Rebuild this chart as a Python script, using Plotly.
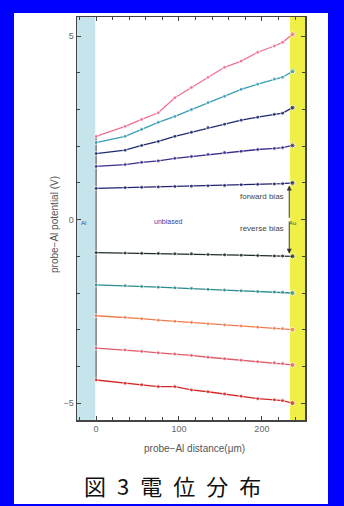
import plotly.graph_objects as go

# ---- data ----
distance_um = [0, 35, 55, 75, 95, 115, 135, 155, 175, 195, 215, 225, 237]

series_labels = ["V<sub>Au</sub>=+5V", "+4V", "+3V", "+2V", "+1V",
                 "-1V", "-2V", "-3V", "-4V", "-5V"]
series_colors = ["#f07090", "#3a9db5", "#1e2c6e", "#3b2d8c", "#23236e",
                 "#1f2b2b", "#2a8c8c", "#f07a4a", "#e25a6a", "#d42828"]

v_p5 = [2.27, 2.54, 2.73, 2.91, 3.32, 3.60, 3.88, 4.15, 4.32, 4.56, 4.73, 4.83, 5.05]
v_p4 = [2.10, 2.27, 2.46, 2.65, 2.81, 3.00, 3.19, 3.36, 3.55, 3.69, 3.83, 3.88, 4.04]
v_p3 = [1.80, 1.89, 2.02, 2.13, 2.27, 2.38, 2.51, 2.60, 2.71, 2.79, 2.87, 2.90, 3.05]
v_p2 = [1.45, 1.50, 1.56, 1.60, 1.67, 1.72, 1.78, 1.83, 1.86, 1.91, 1.94, 1.96, 2.02]
v_p1 = [0.85, 0.87, 0.88, 0.89, 0.90, 0.91, 0.92, 0.93, 0.95, 0.96, 0.97, 0.98, 1.00]
v_m1 = [-0.90, -0.91, -0.92, -0.92, -0.93, -0.93, -0.95, -0.96, -0.97, -0.98, -0.99, -0.99, -1.00]
v_m2 = [-1.78, -1.80, -1.82, -1.84, -1.86, -1.87, -1.90, -1.92, -1.94, -1.96, -1.97, -1.98, -2.00]
v_m3 = [-2.62, -2.66, -2.70, -2.74, -2.77, -2.80, -2.84, -2.87, -2.90, -2.93, -2.96, -2.97, -3.00]
v_m4 = [-3.50, -3.55, -3.59, -3.63, -3.66, -3.70, -3.75, -3.79, -3.83, -3.87, -3.90, -3.92, -3.96]
v_m5 = [-4.37, -4.46, -4.50, -4.55, -4.55, -4.64, -4.69, -4.75, -4.81, -4.88, -4.91, -4.93, -5.00]

all_series = [v_p5, v_p4, v_p3, v_p2, v_p1, v_m1, v_m2, v_m3, v_m4, v_m5]

x_ticks = [0, 100, 200]
y_ticks = [-5, 0, 5]

caption = "図\u20023\u2002電\u2002位\u2002分\u2002布"

# ---- figure ----
fig = go.Figure()

# vertical jump at the Al edge (x = 0) joining the first points of all curves
starts = [s[0] for s in all_series]
fig.add_trace(go.Scatter(x=[0, 0], y=[min(starts), max(starts)], mode="lines",
                         line=dict(color="#555", width=1.2),
                         showlegend=False, hoverinfo="skip"))

for lab, col, vals in zip(series_labels, series_colors, all_series):
    sizes = [4] * (len(vals) - 1) + [5]
    fig.add_trace(go.Scatter(
        x=distance_um, y=vals, mode="lines+markers",
        line=dict(color=col, width=1.3),
        marker=dict(color=col, size=sizes),
        showlegend=False, hoverinfo="skip"))
    fig.add_annotation(x=228, y=vals[-1] + 0.17, text=lab, showarrow=False,
                       xanchor="right", yanchor="bottom",
                       font=dict(size=7, color=col, family="Liberation Sans"))

W, H = 344, 506
L, R, T, B = 77, 39, 17, 86
pw, ph = W - L - R, H - T - B

def px(xpix):
    return (xpix - L) / pw

def py(ypix):
    return (H - B - ypix) / ph

shapes = [
    dict(type="rect", xref="paper", yref="paper", x0=px(14), x1=px(328),
         y0=py(504), y1=py(13), fillcolor="white", line=dict(width=0), layer="below"),
    dict(type="rect", xref="x", yref="paper", x0=-23, x1=-1, y0=0, y1=1,
         fillcolor="#c6e4eb", line=dict(width=0), layer="below"),
    dict(type="rect", xref="x", yref="paper", x0=234, x1=252, y0=0, y1=1,
         fillcolor="#f0ef45", line=dict(width=0), layer="below"),
]

annotations = [
    dict(x=233, y=0.93, ax=233, ay=0.05, xref="x", yref="y", axref="x", ayref="y",
         text="", showarrow=True, arrowhead=2, arrowsize=1, arrowwidth=1, arrowcolor="#333"),
    dict(x=233, y=-0.93, ax=233, ay=-0.05, xref="x", yref="y", axref="x", ayref="y",
         text="", showarrow=True, arrowhead=2, arrowsize=1, arrowwidth=1, arrowcolor="#333"),
    dict(x=229, y=0.46, xref="x", yref="y", text="forward bias", showarrow=False,
         xanchor="right", font=dict(size=8, color="#444", family="Liberation Sans")),
    dict(x=229, y=-0.41, xref="x", yref="y", text="reverse bias", showarrow=False,
         xanchor="right", font=dict(size=8, color="#444", family="Liberation Sans")),
    dict(x=107, y=-0.19, xref="x", yref="y", text="unbiased", showarrow=False,
         font=dict(size=7, color="#3344aa", family="Liberation Sans")),
    dict(x=-10, y=-0.22, xref="x", yref="y", text="Al", showarrow=False,
         font=dict(size=6, color="#3344aa", family="Liberation Sans")),
    dict(x=243, y=-0.22, xref="x", yref="y", text="Au", showarrow=False,
         font=dict(size=6, color="#555", family="Liberation Sans")),
    dict(x=px(54), y=py(225), xref="paper", yref="paper", text="probe−Al potential (V)",
         textangle=-90, showarrow=False, xanchor="center", yanchor="middle",
         font=dict(size=10, color="#555", family="Liberation Sans")),
    dict(x=px(194), y=py(449), xref="paper", yref="paper", text="probe−Al distance(μm)",
         showarrow=False, xanchor="center", yanchor="middle",
         font=dict(size=10, color="#555", family="Liberation Sans")),
    dict(x=px(172), y=py(485), xref="paper", yref="paper", text=caption,
         showarrow=False, xanchor="center", yanchor="middle",
         font=dict(size=22, color="#111", family="Noto Sans CJK JP")),
]

fig.update_layout(
    width=W, height=H,
    margin=dict(l=L, r=R, t=T, b=B, pad=0, autoexpand=False),
    paper_bgcolor="#0000ff",
    plot_bgcolor="white",
    shapes=shapes,
    annotations=annotations,
    xaxis=dict(range=[-23, 252], tickvals=x_ticks, ticks="inside", ticklen=4,
               showgrid=False, zeroline=False, showline=True, linecolor="#444",
               linewidth=1.5, mirror="allticks", tickcolor="#444", automargin=False,
               tickfont=dict(size=9, color="#666", family="Liberation Sans"),
               minor=dict(dtick=20, ticks="inside", ticklen=3, tickcolor="#444")),
    yaxis=dict(range=[-5.46, 5.52], tickvals=y_ticks, ticks="inside", ticklen=4,
               showgrid=False, zeroline=False, showline=True, linecolor="#444",
               linewidth=1.5, mirror="allticks", tickcolor="#444", automargin=False,
               tickfont=dict(size=9, color="#666", family="Liberation Sans"),
               minor=dict(dtick=1, ticks="inside", ticklen=3, tickcolor="#444")),
)

fig.write_html("out.html",
               config={"displayModeBar": False, "staticPlot": True},
               post_script="document.body.style.margin='0';document.body.style.overflow='hidden';")
